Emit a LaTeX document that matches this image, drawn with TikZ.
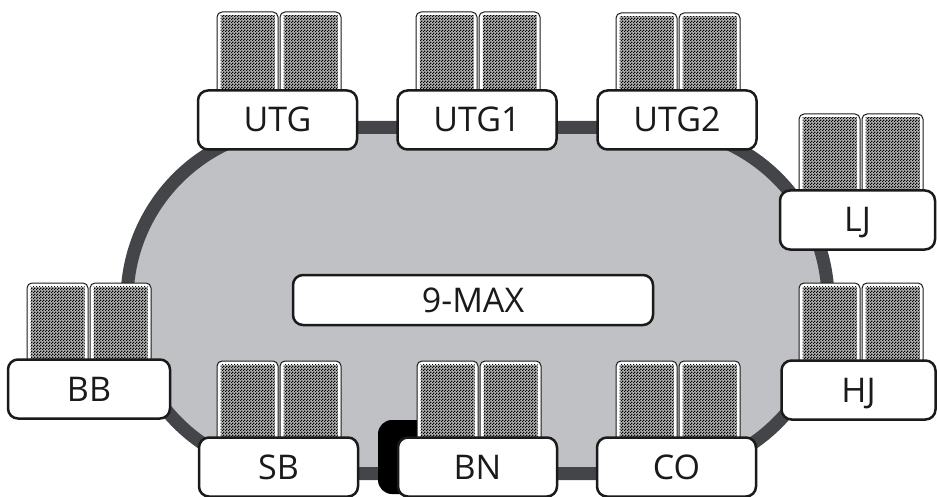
\documentclass[tikz,border=0pt]{standalone}
\usepackage{fontspec}
\setmainfont{Open Sans}
\usetikzlibrary{patterns}
\definecolor{felt}{RGB}{192,193,197}
\definecolor{rail}{RGB}{68,69,72}
\definecolor{ink}{RGB}{26,26,26}
\pgfdeclarepatternformonly{finecheck}{\pgfpointorigin}{\pgfpoint{3pt}{3pt}}{\pgfpoint{3pt}{3pt}}{%
  \pgfpathrectangle{\pgfpointorigin}{\pgfpoint{1.5pt}{1.5pt}}%
  \pgfpathrectangle{\pgfpoint{1.5pt}{1.5pt}}{\pgfpoint{1.5pt}{1.5pt}}%
  \pgfusepath{fill}}
\tikzset{
  seat/.style={draw=ink, line width=2.5pt, fill=white, rounded corners=10pt,
    minimum width=#1, minimum height=59pt, inner sep=0pt,
    text height=24pt, text depth=0pt, text=ink,
    font=\fontsize{34}{38}\selectfont},
  seat/.default=159pt,
  cardback/.style={draw=ink, line width=1pt, fill=white, rounded corners=5pt},
  cardface/.style={fill=black!30, postaction={pattern=finecheck, pattern color=black}},
}
\newcommand\pokercard[3]{% left x, top y, bottom y
  \draw[cardback] (#1,#2) rectangle ++(61,#3-#2);
  \path[cardface] (#1+3.5,#2+3.5) rectangle (#1+57.5,#3);
}
\newcommand\pokerhand[3]{% left x of box, top of cards, top of box
  \pokercard{#1+19}{#2}{#3+8}
  \pokercard{#1+82}{#2}{#3+8}
}
\begin{document}
\begin{tikzpicture}[x=1pt,y=-1pt]
\useasboundingbox (0,0) rectangle (937,497);
% table
\draw[line width=13pt, draw=rail, fill=felt]
  (300,127.5) -- (655,127.5) arc[start angle=-90, end angle=90, radius=173]
  -- (300,473.5) arc[start angle=90, end angle=270, radius=173] -- cycle;
% dealer button
\fill[black, rounded corners=14pt] (378,420) rectangle (470,494);
% cards
\pokerhand{198}{12}{90}
\pokerhand{397}{12}{90}
\pokerhand{597}{13}{90}
\pokerhand{780}{114}{190}
\pokerhand{780}{283}{360}
\pokerhand{8}{283}{360}
\pokerhand{198}{361}{438}
\pokerhand{398}{361}{438}
\pokerhand{597}{361}{438}
% seats
\node[seat] (utg) at (277.5,120) {UTG};
\node[seat] (utg1) at (477,120) {UTG1};
\node[seat] (utg2) at (677,120) {UTG2};
\node[seat=155pt] (lj) at (857.5,220) {LJ};
\node[seat=154pt] (hj) at (858.5,390) {HJ};
\node[seat=162pt] (bb) at (89,389) {BB};
\node[seat] (sb) at (278.5,467) {SB};
\node[seat] (bn) at (477.5,467) {BN};
\node[seat] (co) at (676.5,467) {CO};
\node[seat=360pt, minimum height=50pt] (title) at (473,300) {9-MAX};
\end{tikzpicture}
\end{document}
